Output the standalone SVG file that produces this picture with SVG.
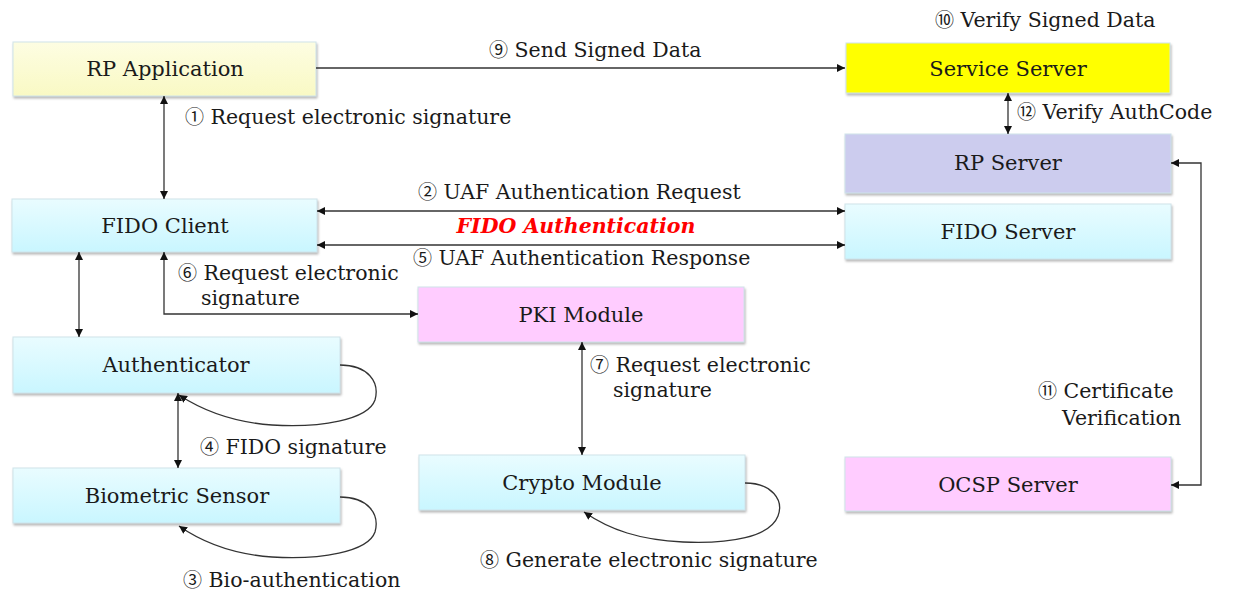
<svg xmlns="http://www.w3.org/2000/svg" width="1233" height="592" viewBox="0 0 1233 592">
<style>
text{font-family:"DejaVu Serif","Liberation Serif",serif;fill:#1a1a1a}
.n{font-size:21px;text-anchor:middle}
.l{font-size:20.5px}
.d{font-family:"Noto Sans CJK JP","Noto Sans CJK SC",sans-serif;font-size:19px}
.box{stroke:#cfe3ea;stroke-width:1;filter:url(#sh)}
.c{fill:none;stroke:#333;stroke-width:1.3}
.red{fill:#ff0000;font-weight:bold;font-style:italic;font-size:20.5px;text-anchor:middle}
</style>
<defs>
<linearGradient id="cy" x1="0" y1="0" x2="0" y2="1"><stop offset="0" stop-color="#e9fcff"/><stop offset="1" stop-color="#c9f6ff"/></linearGradient>
<linearGradient id="ye" x1="0" y1="0" x2="0" y2="1"><stop offset="0" stop-color="#fdfde2"/><stop offset="1" stop-color="#f9f9c4"/></linearGradient>
<filter id="sh" x="-5%" y="-10%" width="110%" height="130%"><feDropShadow dx="1" dy="2" stdDeviation="1.2" flood-color="#888" flood-opacity="0.6"/></filter>
<marker id="a" viewBox="0 0 10 10" refX="10" refY="5" markerWidth="8" markerHeight="8" markerUnits="userSpaceOnUse" orient="auto-start-reverse"><path d="M0,0 L10,5 L0,10 z" fill="#111"/></marker>
</defs>

<g id="rp-application"><rect class="box" x="13" y="42" width="303" height="54" fill="url(#ye)"/><text class="n" x="165" y="76">RP Application</text></g>
<g id="fido-client"><rect class="box" x="12" y="199" width="305" height="53" fill="url(#cy)"/><text class="n" x="165" y="233">FIDO Client</text></g>
<g id="authenticator"><rect class="box" x="13" y="337" width="327" height="56" fill="url(#cy)"/><text class="n" x="176" y="372">Authenticator</text></g>
<g id="biometric-sensor"><rect class="box" x="13" y="468" width="327" height="55" fill="url(#cy)"/><text class="n" x="177" y="503">Biometric Sensor</text></g>
<g id="pki-module"><rect class="box" x="418" y="287" width="326" height="55" fill="#ffccff"/><text class="n" x="581" y="322">PKI Module</text></g>
<g id="crypto-module"><rect class="box" x="419" y="455" width="326" height="55" fill="url(#cy)"/><text class="n" x="582" y="490">Crypto Module</text></g>
<g id="service-server"><rect class="box" x="846" y="43" width="324" height="50" fill="#ffff00"/><text class="n" x="1008" y="76">Service Server</text></g>
<g id="rp-server"><rect class="box" x="845" y="134" width="326" height="59" fill="#ccccee"/><text class="n" x="1008" y="170">RP Server</text></g>
<g id="fido-server"><rect class="box" x="845" y="204" width="326" height="55" fill="url(#cy)"/><text class="n" x="1008" y="239">FIDO Server</text></g>
<g id="ocsp-server"><rect class="box" x="845" y="457" width="326" height="54" fill="#ffccff"/><text class="n" x="1008" y="492">OCSP Server</text></g>

<g id="connectors">
<path class="c" d="M316,68 H845" marker-end="url(#a)"/>
<path class="c" d="M164,96 V199" marker-start="url(#a)" marker-end="url(#a)"/>
<path class="c" d="M317,211 H845" marker-start="url(#a)" marker-end="url(#a)"/>
<path class="c" d="M317,245 H845" marker-start="url(#a)" marker-end="url(#a)"/>
<path class="c" d="M79,252 V337" marker-start="url(#a)" marker-end="url(#a)"/>
<path class="c" d="M164,252 V314 H418" marker-start="url(#a)" marker-end="url(#a)"/>
<path class="c" d="M178,393 V468" marker-start="url(#a)" marker-end="url(#a)"/>
<path class="c" d="M340,365 C368,365 380,382 375,400 C368,420 320,428 272,425 C230,422 202,410 179,395" marker-end="url(#a)"/>
<path class="c" d="M340,497 C368,497 380,514 375,532 C368,552 320,560 272,557 C230,554 202,542 179,526" marker-end="url(#a)"/>
<path class="c" d="M582,342 V455" marker-start="url(#a)" marker-end="url(#a)"/>
<path class="c" d="M745,483 C772,483 784,500 778,516 C770,537 730,544 683,542 C640,540 610,530 584,512" marker-end="url(#a)"/>
<path class="c" d="M1008,93 V134" marker-start="url(#a)" marker-end="url(#a)"/>
<path class="c" d="M1171,163 H1201 V485 H1171" marker-start="url(#a)" marker-end="url(#a)"/>
</g>

<g id="labels">
<text class="l" x="489" y="57"><tspan class="d">⑨</tspan> Send Signed Data</text>
<text class="l" x="935" y="27"><tspan class="d">⑩</tspan> Verify Signed Data</text>
<text class="l" x="185" y="124"><tspan class="d">①</tspan> Request electronic signature</text>
<text class="l" x="1017" y="119"><tspan class="d">⑫</tspan> Verify AuthCode</text>
<text class="l" x="418" y="199"><tspan class="d">②</tspan> UAF Authentication Request</text>
<text class="red" x="576" y="233">FIDO Authentication</text>
<text class="l" x="413" y="265"><tspan class="d">⑤</tspan> UAF Authentication Response</text>
<text class="l" x="178" y="280"><tspan class="d">⑥</tspan> Request electronic</text>
<text class="l" x="201" y="305">signature</text>
<text class="l" x="590" y="372"><tspan class="d">⑦</tspan> Request electronic</text>
<text class="l" x="613" y="397">signature</text>
<text class="l" x="200" y="454"><tspan class="d">④</tspan> FIDO signature</text>
<text class="l" x="183" y="587"><tspan class="d">③</tspan> Bio-authentication</text>
<text class="l" x="480" y="567"><tspan class="d">⑧</tspan> Generate electronic signature</text>
<text class="l" x="1038" y="398"><tspan class="d">⑪</tspan> Certificate</text>
<text class="l" x="1062" y="425">Verification</text>
</g>
</svg>
